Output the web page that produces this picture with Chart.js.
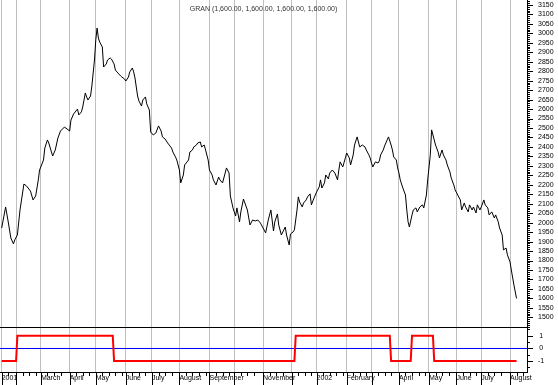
<!DOCTYPE html>
<html>
<head>
<meta charset="utf-8">
<script src="https://cdn.jsdelivr.net/npm/chart.js@4.4.1/dist/chart.umd.min.js"></script>
<style>
  html, body { margin: 0; padding: 0; background: #fff; }
  canvas { display: block; }
</style>
</head>
<body>
<canvas id="grafico" width="558" height="385"></canvas>
<script>
// Titulo do grafico
const titulo = 'GRAN (1,600.00, 1,600.00, 1,600.00, 1,600.00)';

// Inicio de cada mes em dias de pregao (indice) e rotulos mostrados
const diasMes = [0, 11, 30, 52, 72, 95, 115, 136, 159, 178, 200, 222, 241, 264, 283, 304, 327, 348, 367, 389];
const rotulosMes = ['2001', '', 'March', 'April', 'May', 'June', 'July', 'August', 'September', '', 'November', '',
  '2002', 'February', '', 'April', 'May', 'June', 'July', 'August'];

// Fechamentos [dia, valor]
const fechamentos = [
  [0, 1972], [3, 2083], [5, 2004], [7, 1919], [9, 1888], [10, 1909], [12, 1935], [14, 2067], [17, 2204], [19, 2194],
  [22, 2167], [24, 2120], [26, 2141], [28, 2226], [29, 2278], [32, 2331], [33, 2394], [35, 2437], [36, 2421], [39, 2352],
  [41, 2384], [43, 2447], [45, 2484], [48, 2505], [50, 2495], [52, 2484], [53, 2542], [55, 2574], [58, 2600], [59, 2569],
  [61, 2585], [62, 2611], [64, 2685], [65, 2664], [66, 2648], [68, 2669], [69, 2722], [71, 2859], [72, 2965], [73, 3028],
  [74, 2975], [75, 2954], [77, 2928], [78, 2822], [80, 2838], [81, 2859], [83, 2870], [84, 2864], [86, 2838], [87, 2806],
  [89, 2790], [91, 2775], [92, 2769], [94, 2759], [95, 2748], [97, 2769], [98, 2796], [100, 2817], [101, 2796], [102, 2764],
  [104, 2669], [105, 2643], [107, 2616], [108, 2648], [110, 2664], [111, 2627], [113, 2595], [114, 2479], [116, 2463], [118, 2474],
  [120, 2511], [122, 2484], [123, 2453], [125, 2442], [127, 2421], [130, 2394], [131, 2373], [133, 2347], [134, 2331], [136, 2278],
  [137, 2210], [139, 2252], [140, 2305], [143, 2331], [144, 2373], [146, 2384], [147, 2400], [149, 2410], [150, 2421], [152, 2426],
  [153, 2400], [155, 2410], [156, 2384], [158, 2331], [159, 2278], [161, 2252], [162, 2226], [164, 2199], [166, 2241], [167, 2226],
  [169, 2210], [171, 2262], [172, 2289], [174, 2262], [175, 2141], [177, 2078], [179, 2035], [180, 2078], [182, 2004], [183, 2057],
  [185, 2125], [188, 2067], [190, 1988], [192, 2014], [194, 2009], [196, 2014], [198, 1998], [200, 1972], [202, 1946], [204, 2014],
  [206, 2067], [208, 1956], [209, 2004], [211, 2046], [212, 1988], [214, 1935], [217, 1977], [218, 1935], [220, 1882], [221, 1940],
  [223, 1951], [224, 1962], [226, 2067], [227, 2136], [228, 2109], [230, 2083], [231, 2104], [233, 2120], [234, 2136], [236, 2152],
  [237, 2094], [239, 2130], [241, 2162], [243, 2189], [244, 2226], [245, 2183], [247, 2210], [248, 2252], [250, 2231], [251, 2262],
  [253, 2278], [255, 2262], [257, 2226], [258, 2278], [259, 2321], [261, 2294], [263, 2342], [264, 2368], [266, 2342], [267, 2305],
  [268, 2331], [269, 2358], [270, 2410], [272, 2453], [273, 2426], [274, 2400], [276, 2410], [278, 2400], [279, 2384], [281, 2358],
  [282, 2342], [283, 2315], [284, 2294], [286, 2321], [288, 2315], [289, 2326], [290, 2358], [292, 2384], [293, 2405], [294, 2421],
  [295, 2437], [296, 2453], [298, 2410], [299, 2384], [300, 2347], [302, 2331], [303, 2289], [304, 2262], [305, 2226], [307, 2183],
  [309, 2146], [310, 2067], [311, 2004], [312, 1977], [314, 2041], [315, 2067], [317, 2078], [318, 2057], [320, 2083], [322, 2094],
  [323, 2078], [325, 2146], [326, 2226], [328, 2358], [329, 2490], [331, 2437], [332, 2410], [334, 2373], [335, 2342], [337, 2384],
  [338, 2358], [340, 2331], [341, 2305], [343, 2268], [344, 2236], [346, 2199], [347, 2173], [349, 2146], [351, 2120], [352, 2067],
  [354, 2104], [355, 2083], [357, 2057], [358, 2094], [360, 2067], [361, 2083], [363, 2051], [364, 2094], [366, 2067], [367, 2083],
  [369, 2120], [370, 2094], [372, 2078], [373, 2041], [375, 2057], [377, 2025], [378, 2041], [380, 2004], [381, 1972], [383, 1935],
  [384, 1856], [386, 1866], [387, 1830], [389, 1793], [390, 1750], [392, 1671], [394, 1600]
];

// Sinal do indicador (+1 / -1)
const diasSinal = [0, 11, 12, 85, 86, 224, 225, 297, 298, 313, 314, 330, 331, 394];
const valoresSinal = [-1, -1, 1, 1, -1, -1, 1, 1, -1, -1, 1, 1, -1, -1];

// Faixas dos eixos
const eixoX = { min: -1.3, max: 402 };
const eixoPreco = { min: 1449, max: 3176, passo: 10, rotulo: 50 };
const eixoSinal = { min: -1.87, max: 1.69, ticks: [-1.5, -1, -0.5, 0, 0.5, 1, 1.5], rotulos: [-1, 0, 1] };

const fonte = { family: 'Liberation Sans', size: 7 };

// sem margens extras: area do grafico vai de 0 a 527 x 0 a 372
const semPadding = s => { s.paddingTop = 0; s.paddingBottom = 0; s.paddingLeft = 0; s.paddingRight = 0; };

const marcasEixos = {
  id: 'marcasEixos',
  afterDraw(chart) {
    const { ctx, chartArea, scales: { x, y, y2 } } = chart;
    ctx.save();
    ctx.strokeStyle = '#000';
    ctx.lineWidth = 1;
    ctx.beginPath();
    y.ticks.forEach(t => {
      const py = Math.round(y.getPixelForValue(t.value)) + 0.5;
      const len = t.value % eixoPreco.rotulo === 0 ? 6 : 3;
      ctx.moveTo(y.left, py); ctx.lineTo(y.left + len, py);
    });
    y2.ticks.forEach(t => {
      const py = Math.round(y2.getPixelForValue(t.value)) + 0.5;
      const len = eixoSinal.rotulos.includes(t.value) ? 6 : 3;
      ctx.moveTo(y2.left, py); ctx.lineTo(y2.left + len, py);
    });
    // marcas do eixo X: meses longas, semanas curtas
    diasMes.forEach((d, i) => {
      const px = Math.round(x.getPixelForValue(d)) + 0.5;
      ctx.moveTo(px, x.top); ctx.lineTo(px, x.bottom);
      const fim = i + 1 < diasMes.length ? diasMes[i + 1] : eixoX.max;
      for (let s = d + 5; s < fim - 2; s += 5) {
        const ps = Math.round(x.getPixelForValue(s)) + 0.5;
        ctx.moveTo(ps, x.top); ctx.lineTo(ps, x.top + 4);
      }
    });
    // separador entre os paineis
    const sep = Math.round(y.bottom) + 0.5;
    ctx.moveTo(chartArea.left, sep); ctx.lineTo(y.left + 3, sep);
    ctx.stroke();

    ctx.fillStyle = '#333';
    ctx.font = `${fonte.size}px ${fonte.family}`;
    ctx.textAlign = 'center';
    ctx.textBaseline = 'middle';
    ctx.fillText(titulo, (chartArea.left + chartArea.right) / 2, 9);
    ctx.restore();
  }
};

new Chart(document.getElementById('grafico'), {
  type: 'line',
  data: {
    datasets: [
      {
        data: fechamentos.map(([d, v]) => ({ x: d, y: v })),
        yAxisID: 'y',
        borderColor: '#000',
        borderWidth: 1,
        pointRadius: 0,
        tension: 0
      },
      {
        data: diasSinal.map((d, i) => ({ x: d, y: valoresSinal[i] })),
        yAxisID: 'y2',
        borderColor: '#ff0000',
        borderWidth: 2,
        pointRadius: 0,
        tension: 0
      }
    ]
  },
  options: {
    responsive: false,
    animation: false,
    devicePixelRatio: 1,
    layout: { padding: 0 },
    plugins: { legend: { display: false }, tooltip: { enabled: false } },
    scales: {
      x: {
        type: 'linear',
        min: eixoX.min,
        max: eixoX.max,
        afterBuildTicks: s => { s.ticks = diasMes.map(v => ({ value: v })); },
        afterFit: s => { s.height = 13; semPadding(s); },
        ticks: {
          autoSkip: false,
          maxRotation: 0,
          align: 'start',
          padding: 2,
          font: fonte,
          color: '#000',
          callback: (v, i) => rotulosMes[i]
        },
        grid: { color: '#c0c0c0', drawTicks: false },
        border: { color: '#000' }
      },
      y: {
        type: 'linear',
        position: 'right',
        stack: 'paineis',
        stackWeight: 327,
        min: eixoPreco.min,
        max: eixoPreco.max,
        afterBuildTicks: s => {
          const t = [];
          for (let v = 1460; v <= 3170; v += eixoPreco.passo) t.push({ value: v });
          s.ticks = t;
        },
        afterFit: s => { s.width = 31; semPadding(s); },
        ticks: {
          autoSkip: false,
          padding: 11,
          font: fonte,
          color: '#000',
          callback: v => (v % eixoPreco.rotulo === 0 && v >= 1500 && v <= 3150) ? String(v) : ''
        },
        grid: { drawOnChartArea: false, drawTicks: false },
        border: { color: '#000' }
      },
      y2: {
        type: 'linear',
        position: 'right',
        stack: 'paineis',
        stackWeight: 45,
        min: eixoSinal.min,
        max: eixoSinal.max,
        afterBuildTicks: s => { s.ticks = eixoSinal.ticks.map(v => ({ value: v })); },
        afterFit: s => { s.width = 31; semPadding(s); },
        ticks: {
          autoSkip: false,
          padding: 11,
          crossAlign: 'center',
          font: fonte,
          color: '#000',
          callback: v => eixoSinal.rotulos.includes(v) ? String(v) : ''
        },
        grid: {
          drawTicks: false,
          color: c => c.tick && c.tick.value === 0 ? '#0000ff' : 'rgba(0,0,0,0)'
        },
        border: { color: '#000' }
      }
    }
  },
  plugins: [marcasEixos]
});
</script>
</body>
</html>
